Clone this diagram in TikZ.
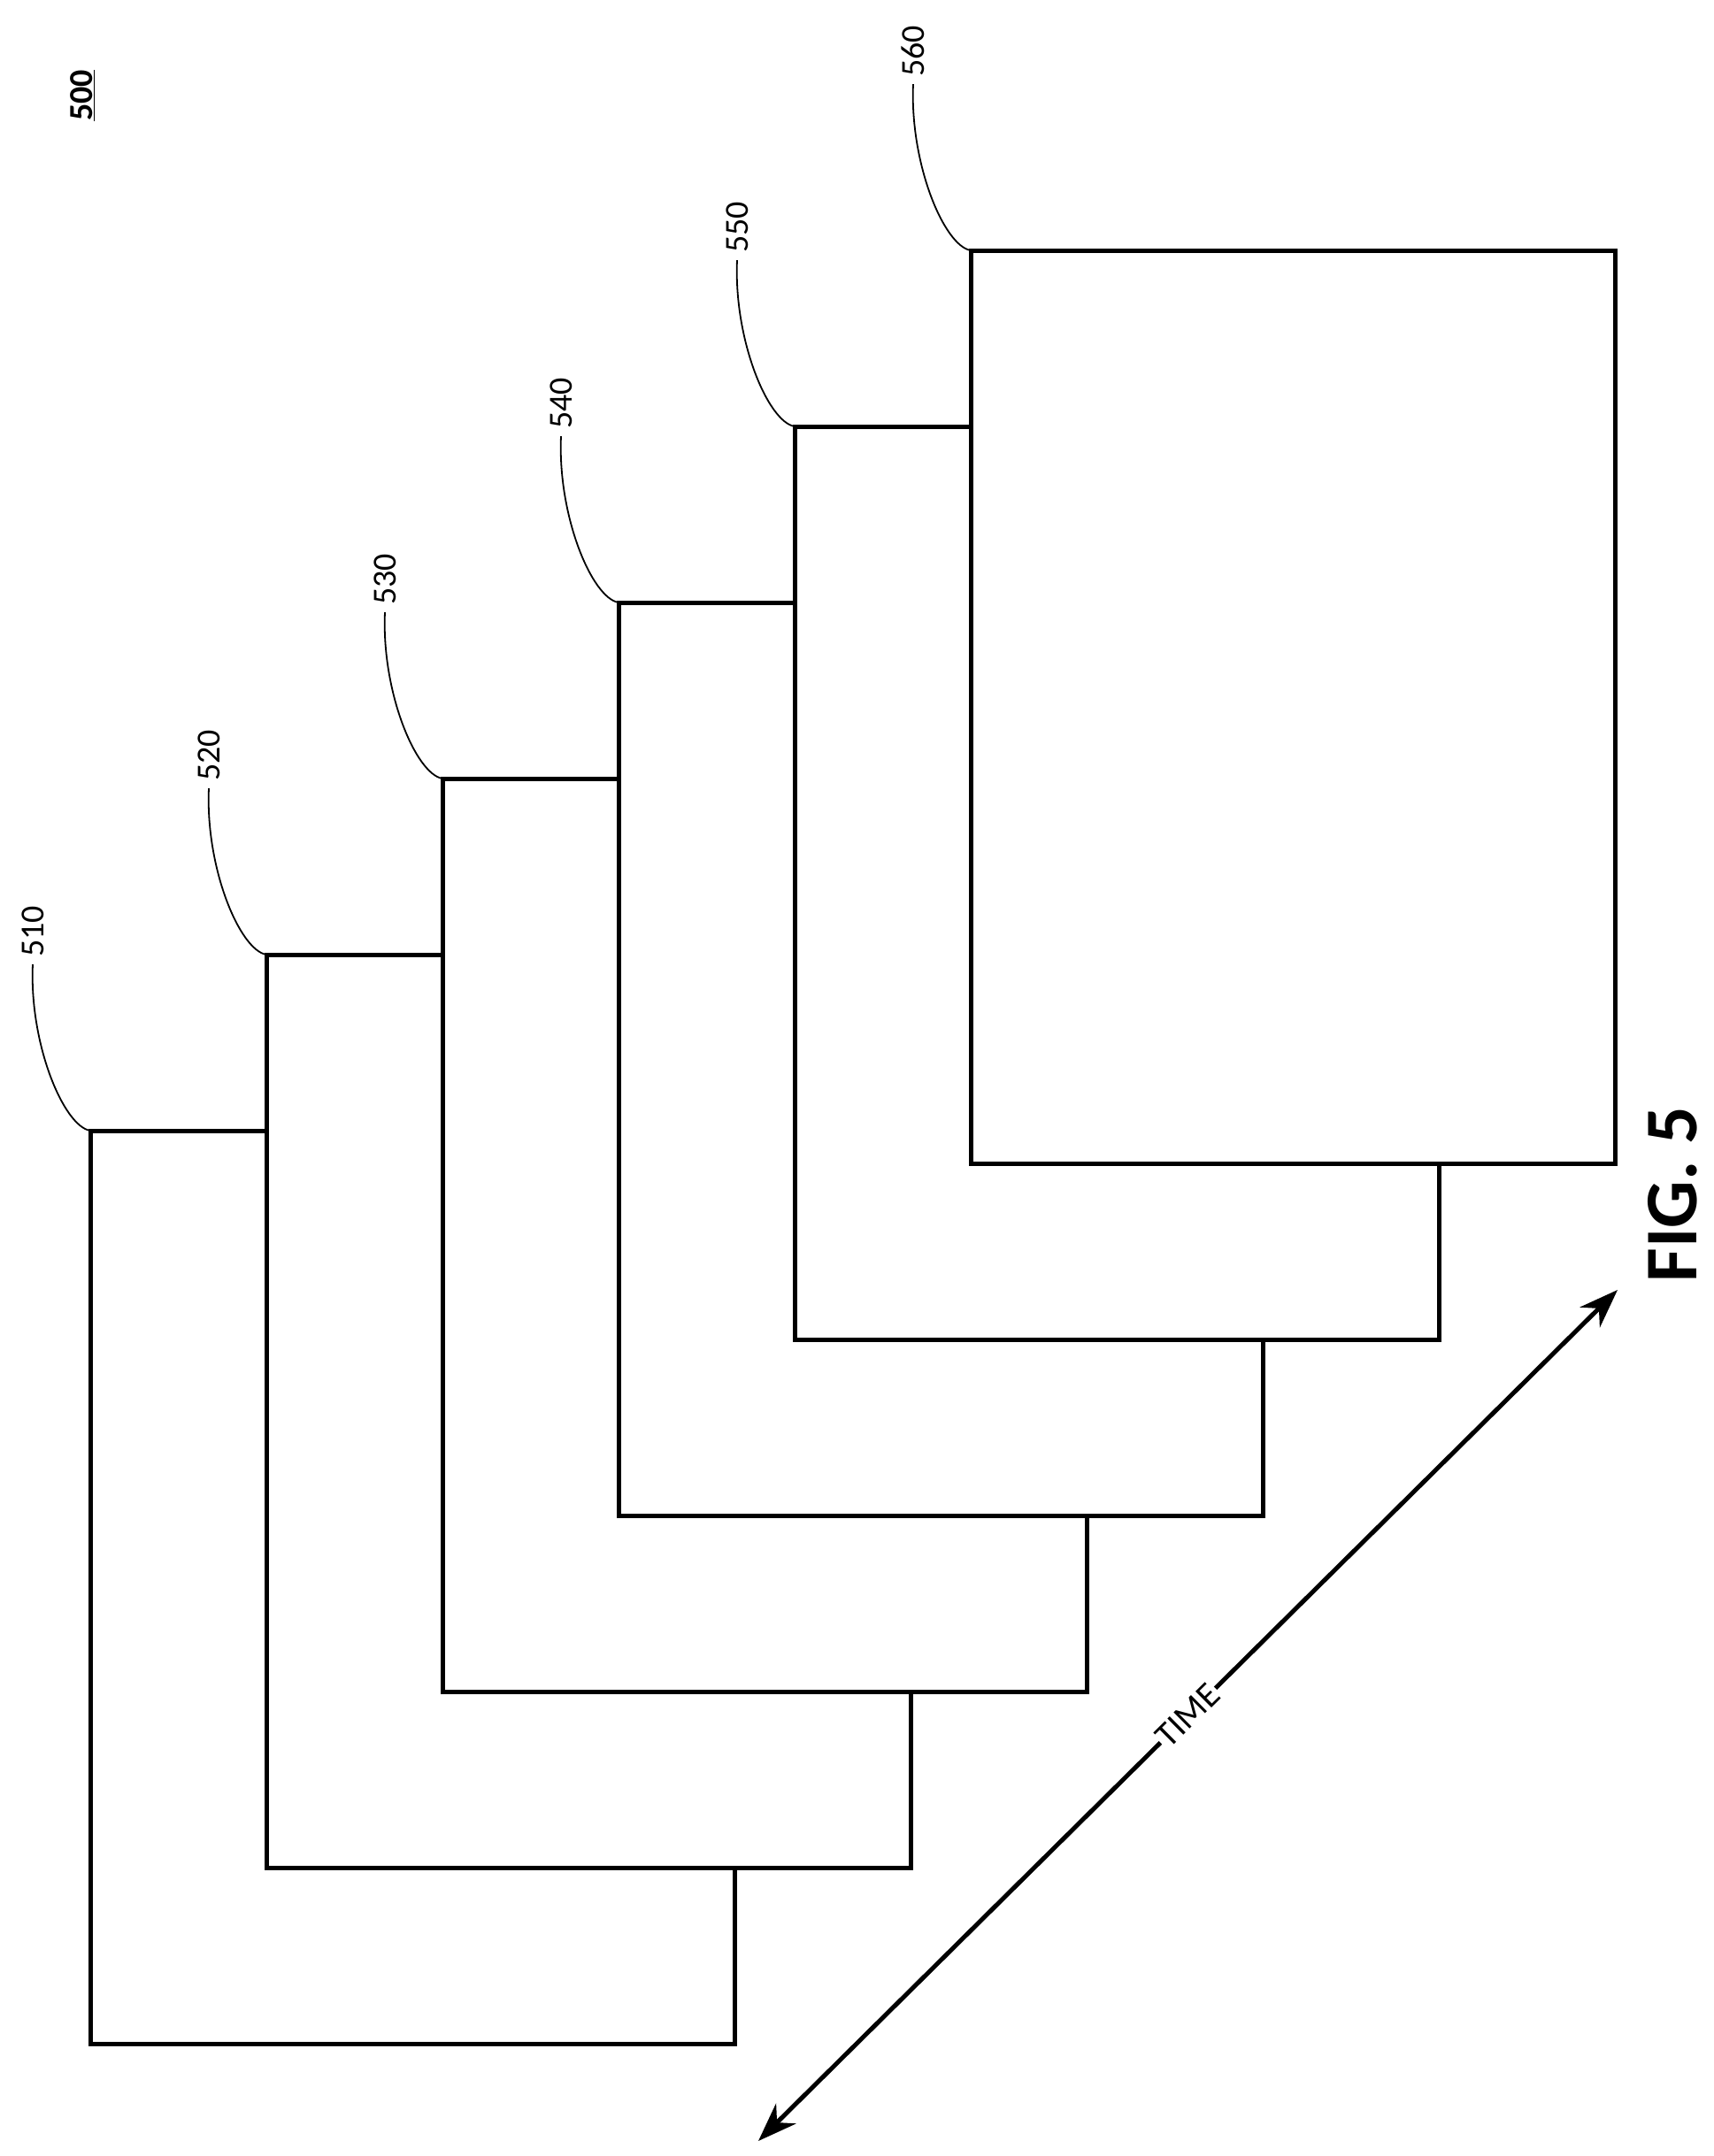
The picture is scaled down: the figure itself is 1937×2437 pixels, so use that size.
\documentclass[tikz,border=0pt]{standalone}
\usepackage{fontspec}
\setmainfont{Carlito}
\usetikzlibrary{arrows.meta}
\begin{document}
\begin{tikzpicture}[x=1pt,y=-1pt,
  frame/.style={draw,line width=5pt,fill=white,line join=miter},
  lead/.style={draw,line width=1.8pt},
  lbl/.style={rotate=90,font=\fontsize{38}{38}\selectfont,inner sep=0pt}]
\useasboundingbox (0,0) rectangle (1937,2437);
\foreach \i/\n in {0/510,1/520,2/530,3/540,4/550,5/560}{
  \pgfmathsetmacro\xl{102+199*\i}
  \pgfmathsetmacro\yt{1278-199*\i}
  \path[frame] (\xl,\yt) rectangle ++(728,1032);
  \coordinate (c\n) at (\xl,\yt);
  \node[lbl] (l\n) at (\xl-65,\yt-225) {\n};
  \draw[lead] (l\n.west) ++(0,8) .. controls ++(-4,90) and ++(-30,-5) .. (c\n);
}
\node[rotate=90,font=\bfseries\fontsize{38}{38}\selectfont,inner sep=0pt] (t500) at (93,108) {\underline{500}};
\coordinate (a1) at (857,2420);
\coordinate (a2) at (1828,1458);
\draw[line width=5pt,{Stealth[length=44pt,width=32pt]}-{Stealth[length=44pt,width=32pt]}] (a1) -- (a2)
  node[pos=0.5,sloped,fill=white,inner sep=2pt,font=\fontsize{40}{40}\selectfont] (time) {TIME};
\node[rotate=90,font=\bfseries\fontsize{84}{84}\selectfont,inner sep=0pt] (fig) at (1890,1350) {FIG. 5};
\end{tikzpicture}
\end{document}
